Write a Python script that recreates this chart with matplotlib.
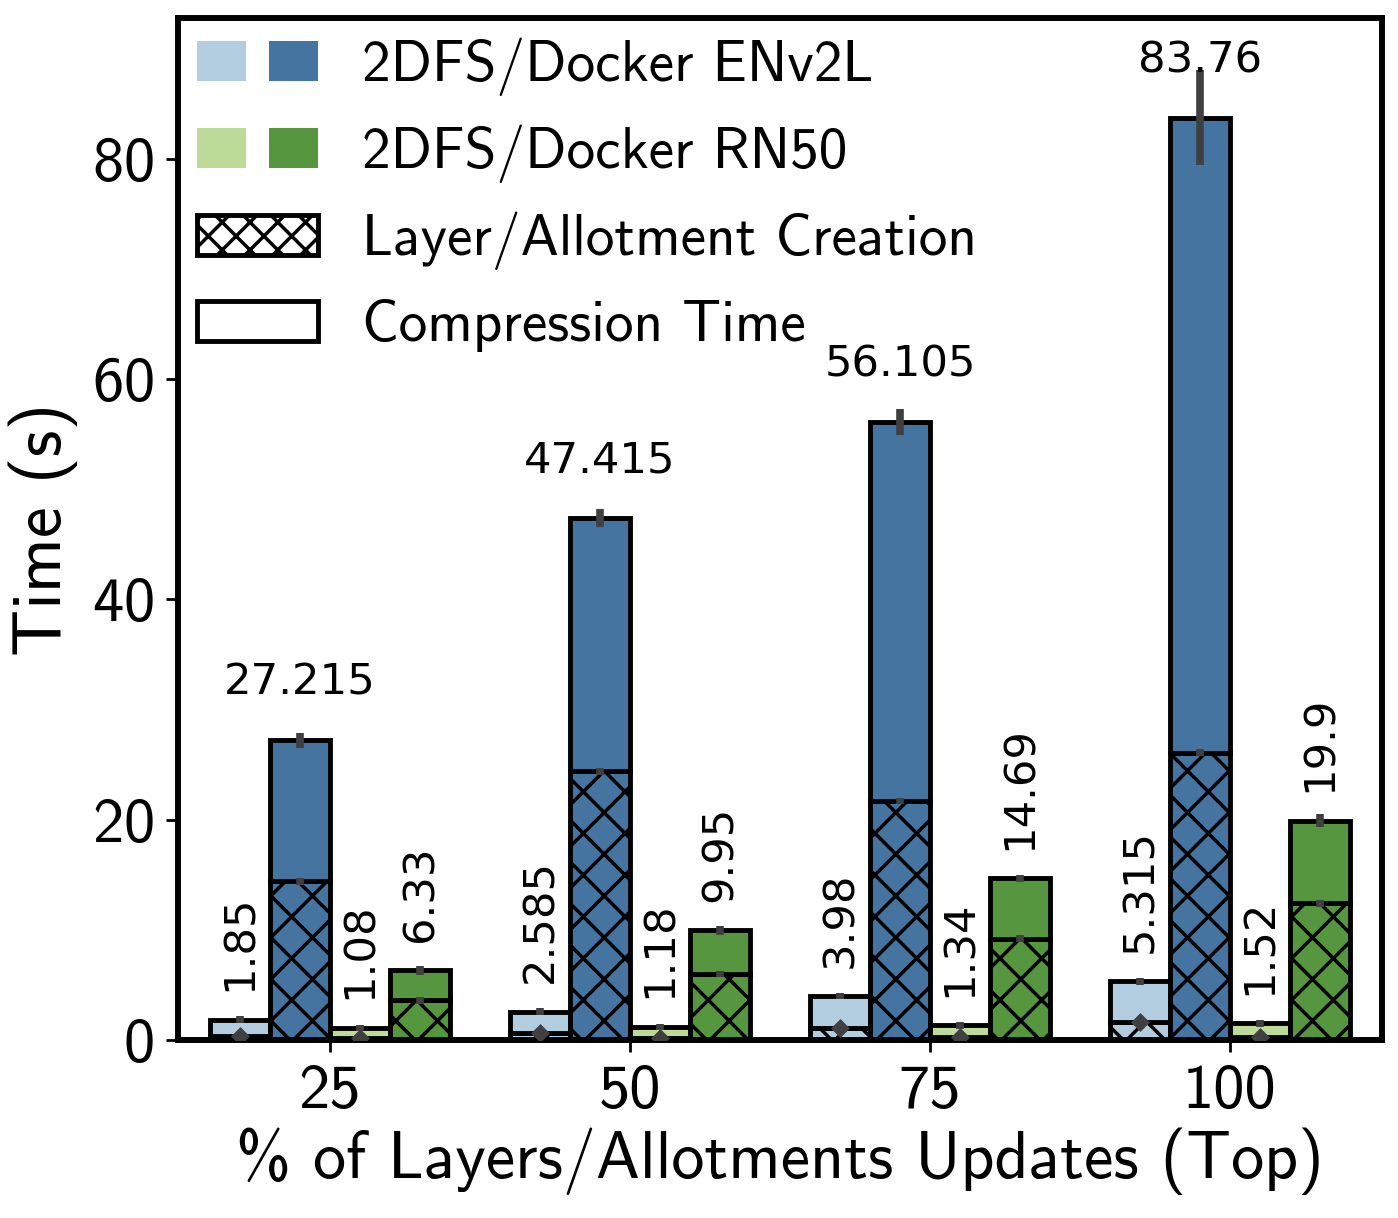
import numpy as np
import matplotlib.pyplot as plt
from matplotlib.patches import Patch
from matplotlib.legend_handler import HandlerTuple

plt.rcParams['font.family'] = 'cmss10'
plt.rcParams['axes.formatter.use_mathtext'] = True
plt.rcParams['hatch.linewidth'] = 1.0

updates = ['25', '50', '75', '100']

# total time (s)
tot_2dfs_env2l = [1.85, 2.585, 3.98, 5.315]
tot_docker_env2l = [27.215, 47.415, 56.105, 83.76]
tot_2dfs_rn50 = [1.08, 1.18, 1.34, 1.52]
tot_docker_rn50 = [6.33, 9.95, 14.69, 19.9]

# layer / allotment creation part (hatched)
cre_2dfs_env2l = [0.4, 0.6, 1.1, 1.6]
cre_docker_env2l = [14.4, 24.4, 21.7, 26.1]
cre_2dfs_rn50 = [0.2, 0.2, 0.25, 0.3]
cre_docker_rn50 = [3.6, 6.0, 9.2, 12.4]

# spread of the totals
err_2dfs_env2l = [0.3, 0.3, 0.3, 0.3]
err_docker_env2l = [0.7, 0.8, 1.2, 4.3]
err_2dfs_rn50 = [0.3, 0.3, 0.3, 0.3]
err_docker_rn50 = [0.4, 0.4, 0.3, 0.6]

c_lb, c_db, c_lg, c_dg = '#b3cde0', '#44749f', '#bddb98', '#56963f'

series = [
    (tot_2dfs_env2l, cre_2dfs_env2l, err_2dfs_env2l, c_lb, False),
    (tot_docker_env2l, cre_docker_env2l, err_docker_env2l, c_db, True),
    (tot_2dfs_rn50, cre_2dfs_rn50, err_2dfs_rn50, c_lg, False),
    (tot_docker_rn50, cre_docker_rn50, err_docker_rn50, c_dg, False),
]

W, H, DPI = 1398, 1218, 250
fig = plt.figure(figsize=(W / DPI, H / DPI), dpi=DPI)
ax = fig.add_axes([178 / W, 1 - 1040 / H, 1204 / W, 1022 / H])

x = np.arange(len(updates))
width = 0.2
offsets = [-0.3, -0.1, 0.1, 0.3]
ecol = '#404040'

for (tot, cre, err, col, horiz), off in zip(series, offsets):
    tot = np.array(tot)
    cre = np.array(cre)
    xs = x + off
    ax.bar(xs, cre, width, color=col, edgecolor='black', linewidth=1.4,
           hatch='xx', zorder=2)
    ax.bar(xs, tot - cre, width, bottom=cre, color=col, edgecolor='black',
           linewidth=1.4, zorder=2)
    if horiz or off > 0.2:
        ax.errorbar(xs, cre, yerr=0.3, fmt='none', ecolor=ecol,
                    elinewidth=2.2, capsize=0, zorder=3)
    else:
        ax.plot(xs, cre, 'D', color=ecol, ms=2.8, zorder=3)
    ax.errorbar(xs, tot, yerr=err, fmt='none', ecolor=ecol, elinewidth=2.2,
                capsize=0, zorder=3)
    for xi, t in zip(xs, tot):
        if horiz:
            ax.text(xi, t + 3.3, str(t), ha='center', va='bottom',
                    fontsize=12.5, family='DejaVu Sans')
        else:
            ax.text(xi, t + 2.6, str(t), ha='center', va='bottom',
                    rotation=90, fontsize=12.5, family='DejaVu Sans')

ax.set_xlim(-0.507, 3.507)
ax.set_ylim(0, 92.8)
ax.set_xticks(x)
ax.set_xticklabels(updates)
ax.set_yticks([0, 20, 40, 60, 80])
ax.tick_params(labelsize=18)
ax.set_xlabel('% of Layers/Allotments Updates (Top)', fontsize=19, labelpad=2)
ax.set_ylabel('Time (s)', fontsize=20)
for s in ax.spines.values():
    s.set_linewidth(1.7)

handles = [
    (Patch(facecolor=c_lb, edgecolor='none'), Patch(facecolor=c_db, edgecolor='none')),
    (Patch(facecolor=c_lg, edgecolor='none'), Patch(facecolor=c_dg, edgecolor='none')),
    Patch(facecolor='white', edgecolor='black', linewidth=1.4, hatch='xxx'),
    Patch(facecolor='white', edgecolor='black', linewidth=1.4),
]
labels = ['2DFS/Docker ENv2L', '2DFS/Docker RN50',
          'Layer/Allotment Creation', 'Compression Time']
ax.legend(handles, labels, loc='upper left', frameon=False, fontsize=16.5,
          handlelength=2.1, handleheight=0.7, handletextpad=0.78,
          borderaxespad=0.19, borderpad=0.15, labelspacing=0.5,
          handler_map={tuple: HandlerTuple(ndivide=None, pad=0.4)})

fig.savefig('out.png', dpi=DPI)
